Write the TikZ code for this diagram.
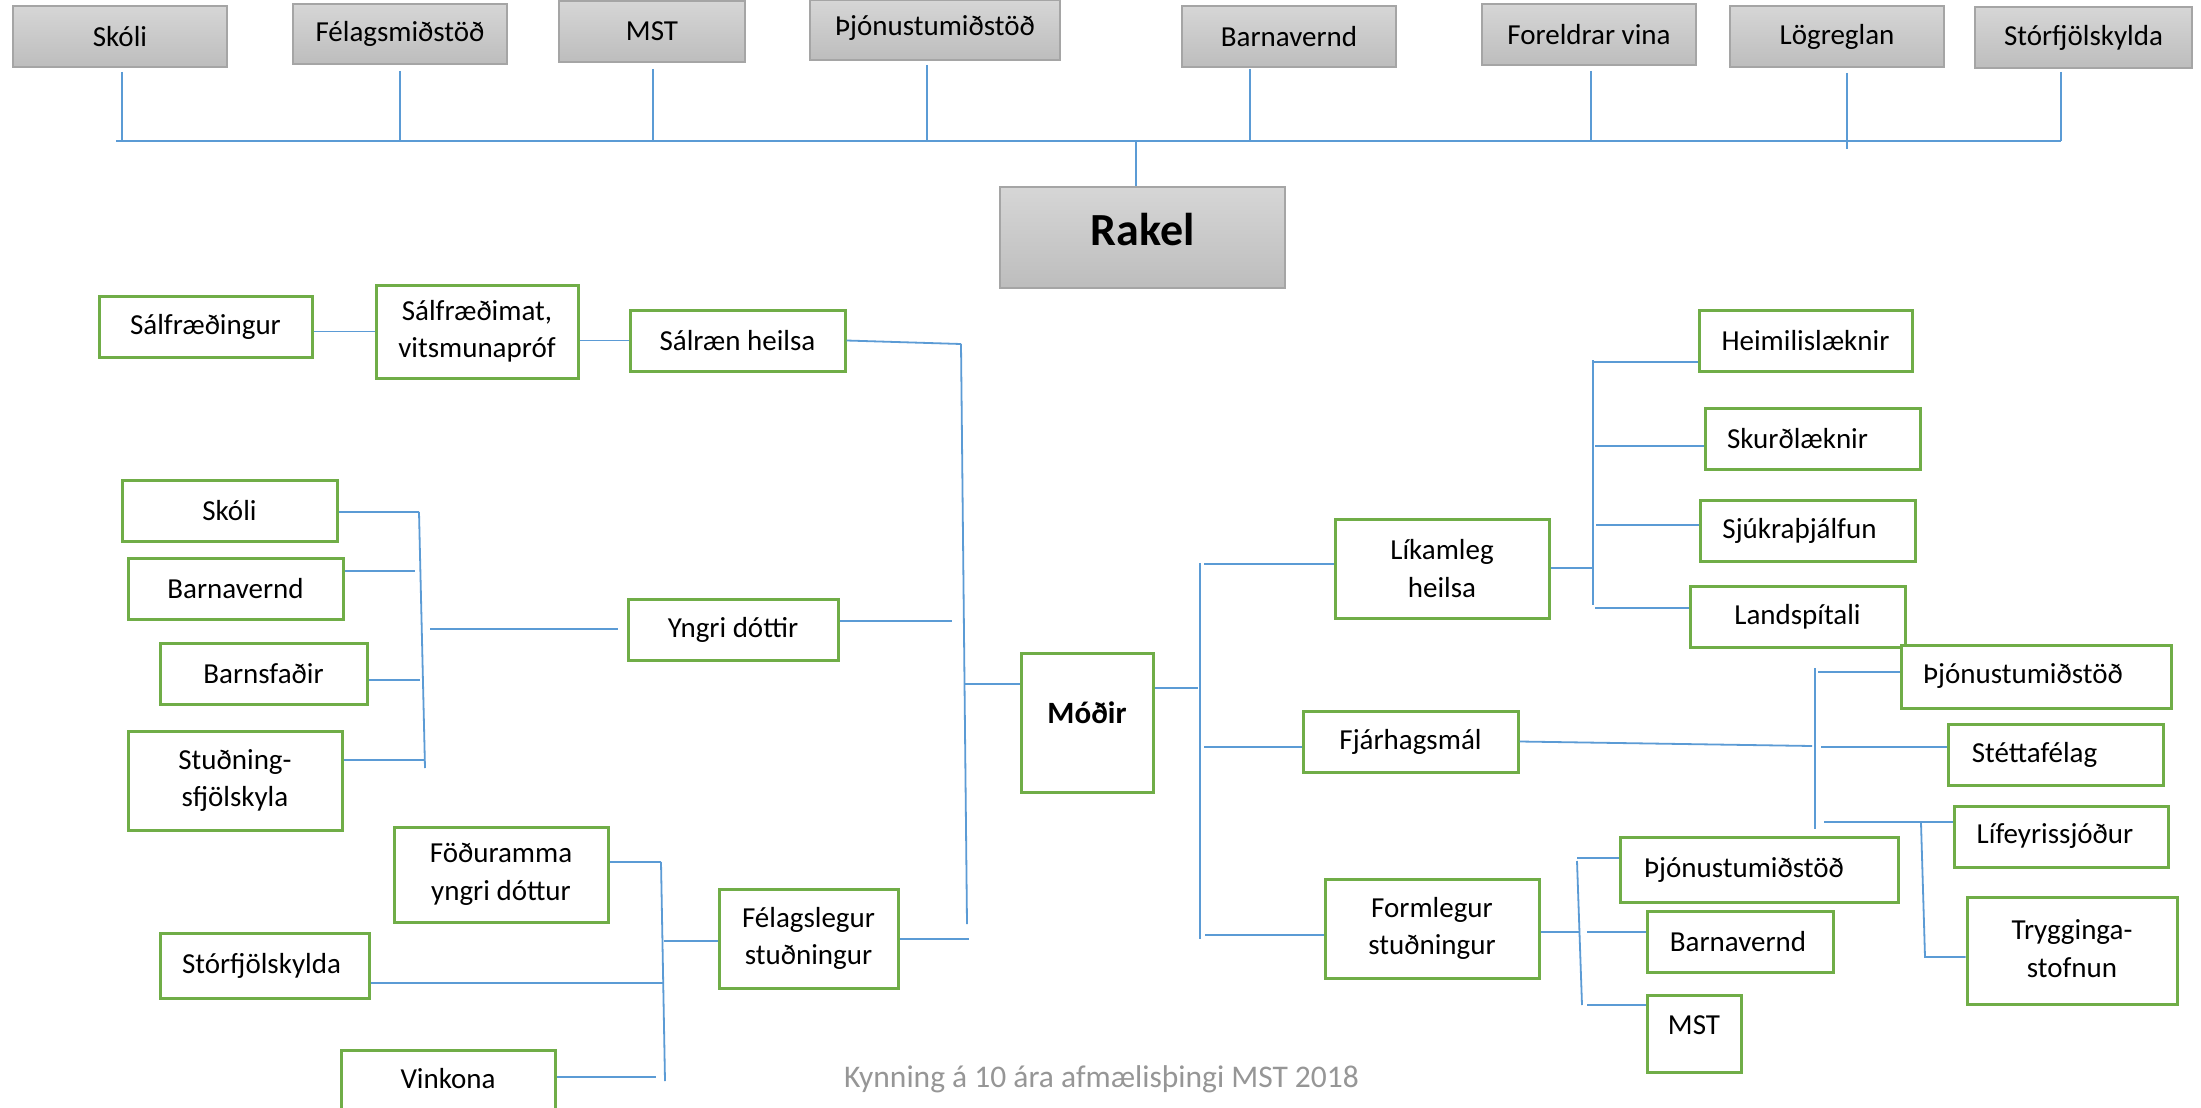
\documentclass[tikz,border=0pt]{standalone}
\usepackage{fontspec}
\setmainfont{Carlito}
\definecolor{boxgreen}{HTML}{70AD47}
\definecolor{lineblue}{HTML}{5B9BD5}
\definecolor{greytop}{HTML}{D6D6D6}
\definecolor{greybot}{HTML}{BDBDBD}
\definecolor{greyedge}{HTML}{A5A5A5}
\definecolor{foottext}{HTML}{969696}
\newcommand\mybox[9]{%
  \node[#1, minimum width={(#5)-(#3)}, minimum height={(#6)-(#4)},
        label={[lbl,shift={(#8,#9)}]center:{#7}}] (#2) at ({((#3)+(#5))/2},{((#4)+(#6))/2}) {};}
\tikzset{
  gbox/.style={rectangle, inner sep=0pt, draw=greyedge, line width=1.6pt, top color=greytop, bottom color=greybot},
  grbox/.style={rectangle, inner sep=0pt, draw=boxgreen, line width=3pt, fill=white},
  lbl/.style={inner sep=0pt, align=center, text=black, font=\fontsize{29}{37.5}\selectfont},
  conn/.style={draw=lineblue, line width=1.8pt},
  footer/.style={inner sep=0pt, text=foottext, font=\fontsize{31.5}{38}\selectfont}
}
\begin{document}
\begin{tikzpicture}[x=1pt,y=-1pt]
\fill[white] (0,0) rectangle (2201,1108);
\useasboundingbox (0,0) rectangle (2201,1108);
% top row
\mybox{gbox}{t1}{13}{6}{227}{67}{Skóli}{0}{0}
\mybox{gbox}{t2}{293}{4}{507}{64}{Félagsmiðstöð}{0}{0}
\mybox{gbox}{t3}{559}{1}{745}{62}{MST}{0}{0}
\mybox{gbox}{t4}{810}{0}{1060}{60}{Þjónustumiðstöð}{0}{-2}
\mybox{gbox}{t5}{1182}{6}{1396}{67}{Barnavernd}{0}{0}
\mybox{gbox}{t6}{1482}{4}{1696}{65}{Foreldrar vina}{0}{0}
\mybox{gbox}{t7}{1730}{6}{1944}{67}{Lögreglan}{0}{0}
\mybox{gbox}{t8}{1975}{7}{2192}{68}{Stórfjölskylda}{0}{0}
\mybox{gbox}{rakel}{1000}{187}{1285}{288}{\fontsize{46}{50}\selectfont\bfseries Rakel}{0}{-8}
% left side
\mybox{grbox}{sf}{99}{296}{312}{357}{Sálfræðingur}{0}{0}
\mybox{grbox}{sm}{376}{285}{578}{378}{Sálfræðimat,\\vitsmunapróf}{0}{0}
\mybox{grbox}{sh}{630}{310}{845}{371}{Sálræn heilsa}{0}{0}
\mybox{grbox}{ls}{122}{480}{337}{541}{Skóli}{0}{0}
\mybox{grbox}{lb}{128}{558}{343}{619}{Barnavernd}{0}{0}
\mybox{grbox}{lf}{160}{643}{367}{704}{Barnsfaðir}{0}{0}
\mybox{grbox}{lst}{128}{731}{342}{830}{Stuðning-\\sfjölskyla}{0}{0}
\mybox{grbox}{yd}{628}{599}{838}{660}{Yngri dóttir}{0}{0}
\mybox{grbox}{fa}{394}{827}{608}{922}{Föðuramma\\yngri dóttur}{0}{0}
\mybox{grbox}{sfj}{160}{933}{369}{998}{Stórfjölskylda}{-3}{0}
\mybox{grbox}{vk}{341}{1050}{555}{1112}{Vinkona}{0}{-2}
\mybox{grbox}{fs}{719}{889}{898}{988}{Félagslegur\\stuðningur}{0}{0}
% centre and right side
\mybox{grbox}{mo}{1021}{653}{1153}{792}{\fontsize{31}{36}\selectfont\bfseries Móðir}{0}{-10}
\mybox{grbox}{lh}{1335}{519}{1549}{618}{Líkamleg\\heilsa}{0}{0}
\mybox{grbox}{hl}{1699}{310}{1912}{371}{Heimilislæknir}{0}{0}
\mybox{grbox}{sk}{1705}{408}{1920}{469}{Skurðlæknir}{-15}{0}
\mybox{grbox}{sj}{1700}{500}{1915}{561}{Sjúkraþjálfun}{-8}{0}
\mybox{grbox}{la}{1690}{586}{1905}{647}{Landspítali}{0}{0}
\mybox{grbox}{fm}{1303}{711}{1518}{772}{Fjárhagsmál}{0}{0}
\mybox{grbox}{rj}{1901}{645}{2171}{708}{Þjónustumiðstöð}{-13}{0}
\mybox{grbox}{st}{1948}{724}{2163}{785}{Stéttafélag}{-21}{0}
\mybox{grbox}{li}{1954}{806}{2168}{867}{Lífeyrissjóður}{-6}{0}
\mybox{grbox}{tr}{1967}{897}{2177}{1004}{Trygginga-\\stofnun}{0}{-2}
\mybox{grbox}{fl}{1325}{879}{1539}{978}{Formlegur\\stuðningur}{0}{0}
\mybox{grbox}{pj}{1620}{837}{1898}{902}{Þjónustumiðstöð}{-15}{0}
\mybox{grbox}{bv}{1647}{911}{1833}{972}{Barnavernd}{-2}{0}
\mybox{grbox}{ms}{1647}{995}{1741}{1072}{MST}{0}{-8}
% footer
\node[footer, anchor=base] (foot) at (1101.5,1087) {Kynning á 10 ára afmælisþingi MST 2018};
% ---- connectors: top bus
\coordinate (bl) at (116,141);
\coordinate (br) at (2061,141);
\draw[conn] (bl) -- (br);
\coordinate (b1) at (122,141);
\coordinate (b2) at (400,141);
\coordinate (b3) at (653,141);
\coordinate (b4) at (927,141);
\coordinate (b5) at (1250,141);
\coordinate (b6) at (1591,141);
\coordinate (b7) at (1847,141);
\coordinate (b8) at (2061,141);
\coordinate (b0) at (1136,141);
\draw[conn] ([yshift=-4]t1.south -| b1) -- (b1);
\draw[conn] ([yshift=-6]t2.south -| b2) -- (b2);
\draw[conn] ([yshift=-6]t3.south -| b3) -- (b3);
\draw[conn] ([yshift=-4]t4.south -| b4) -- (b4);
\draw[conn] ([yshift=-1]t5.south -| b5) -- (b5);
\draw[conn] ([yshift=-5]t6.south -| b6) -- (b6);
\draw[conn] ([yshift=-5]t7.south -| b7) -- ([yshift=-8]b7);
\draw[conn] ([yshift=-3]t8.south -| b8) -- (b8);
\draw[conn] (b0) -- (rakel.north -| b0);
% ---- left main bus
\coordinate (m1) at (961,344);
\coordinate (m2) at (967,924);
\draw[conn] (m1) -- (m2);
\draw[conn] (sf.east |- sm.west) -- (sm.west);
\draw[conn] (sm.east |- sh.west) -- (sh.west);
\draw[conn] (sh.east) -- (m1);
\coordinate (m3) at (952,621);
\draw[conn] (yd.east |- m3) -- (m3);
\coordinate (m4) at (964,684);
\draw[conn] (m4) -- (mo.west |- m4);
\coordinate (m5) at (969,939);
\draw[conn] (fs.east |- m5) -- (m5);
% ---- Yngri dóttir bus
\coordinate (y1) at (419,512);
\coordinate (y2) at (425,768);
\draw[conn] (y1) -- (y2);
\draw[conn] (ls.east |- y1) -- (y1);
\coordinate (y3) at (415,571);
\draw[conn] (lb.east |- y3) -- (y3);
\coordinate (y4) at (420,680);
\draw[conn] (lf.east |- y4) -- (y4);
\coordinate (y5) at (424,760);
\draw[conn] (lst.east |- y5) -- (y5);
\coordinate (y6) at (430,629);
\draw[conn] (y6) -- ([xshift=-9]yd.west |- y6);
% ---- Félagslegur bus
\coordinate (f1) at (661,862);
\coordinate (f2) at (665,1081);
\draw[conn] (f1) -- (f2);
\draw[conn] (fa.east |- f1) -- (f1);
\coordinate (f3) at (664,983);
\draw[conn] (sfj.east |- f3) -- (f3);
\coordinate (f4) at (656,1077);
\draw[conn] (vk.east |- f4) -- (f4);
\coordinate (f5) at (664,941);
\draw[conn] (f5) -- (fs.west |- f5);
% ---- right main bus
\coordinate (r1) at (1200,563);
\coordinate (r2) at (1200,939);
\draw[conn] (r1) -- (r2);
\coordinate (r0) at (1198,688);
\draw[conn] (mo.east |- r0) -- (r0);
\coordinate (r3) at (1204,564);
\draw[conn] (r3) -- (lh.west |- r3);
\coordinate (r4) at (1204,747);
\draw[conn] (r4) -- (fm.west |- r4);
\coordinate (r5) at (1205,935);
\draw[conn] (r5) -- (fl.west |- r5);
% ---- Líkamleg heilsa bus
\coordinate (l1) at (1593,360);
\coordinate (l2) at (1593,605);
\draw[conn] (l1) -- (l2);
\coordinate (l0) at (1592,568);
\draw[conn] (lh.east |- l0) -- (l0);
\coordinate (l3) at (1593,362);
\draw[conn] (l3) -- (hl.west |- l3);
\coordinate (l4) at (1595,446);
\draw[conn] (l4) -- (sk.west |- l4);
\coordinate (l5) at (1596,525);
\draw[conn] (l5) -- (sj.west |- l5);
\coordinate (l6) at (1595,608);
\draw[conn] (l6) -- (la.west |- l6);
% ---- Fjárhagsmál bus
\coordinate (g1) at (1815,668);
\coordinate (g2) at (1815,829);
\draw[conn] (g1) -- (g2);
\coordinate (g0) at (1812,746);
\draw[conn] (fm.east) -- (g0);
\coordinate (g3) at (1818,672);
\draw[conn] (g3) -- (rj.west |- g3);
\coordinate (g4) at (1821,747);
\draw[conn] (g4) -- (st.west |- g4);
\coordinate (g5) at (1824,822);
\draw[conn] (g5) -- (li.west |- g5);
\coordinate (g6) at (1921,823);
\coordinate (g7) at (1925,957);
\draw[conn] (g6) -- (g7) -- (tr.west |- g7);
% ---- Formlegur stuðningur bus
\coordinate (h1) at (1577,861);
\coordinate (h2) at (1582,1005);
\draw[conn] (h1) -- (h2);
\coordinate (h0) at (1579,932);
\draw[conn] (fl.east |- h0) -- (h0);
\coordinate (h3) at (1577,858);
\draw[conn] (h3) -- (pj.west |- h3);
\coordinate (h4) at (1587,932);
\draw[conn] (h4) -- (bv.west |- h4);
\coordinate (h5) at (1587,1005);
\draw[conn] (h5) -- (ms.west |- h5);
\end{tikzpicture}
\end{document}
